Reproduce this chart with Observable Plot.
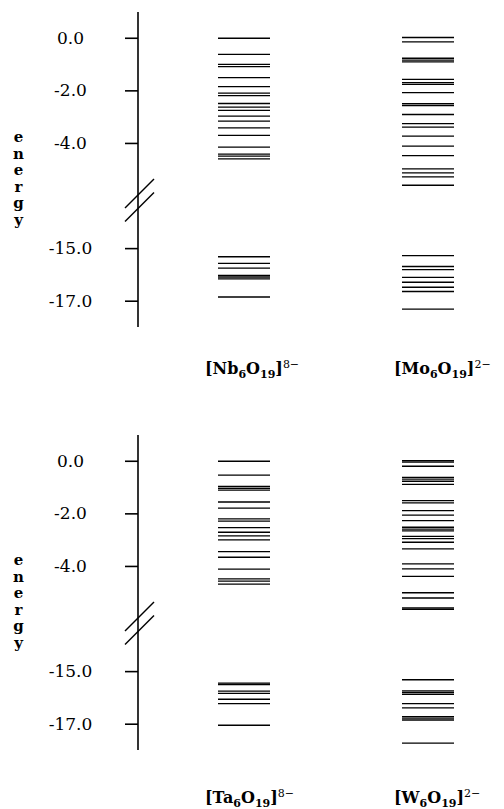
<!DOCTYPE html>
<html>
<head>
<meta charset="utf-8">
<script src="https://cdn.jsdelivr.net/npm/d3@7"></script>
<script src="https://cdn.jsdelivr.net/npm/@observablehq/plot@0.6"></script>
<style>
  html, body { margin: 0; padding: 0; background: #fff; }
  #page { position: relative; width: 504px; height: 809px; overflow: hidden; background: #fff; }
  .panel { position: absolute; left: 0; }
  .lbl { position: absolute; font-family: "DejaVu Serif", serif; font-weight: bold; font-size: 16px; line-height: 16px; color: #000; white-space: nowrap; }
  .lbl sub, .lbl sup { font-size: 11px; line-height: 0; }
  .lbl sup { font-weight: normal; }
</style>
</head>
<body>
<div id="page"></div>
<script>
// ---- data (energies, eV) ----
const topColumns = ["Nb", "Mo"];
const bottomColumns = ["Ta", "W"];

const nbLevels = [0.0, -0.61, -0.99, -1.08, -1.50, -1.84, -2.09, -2.18, -2.48, -2.62, -2.74, -2.96, -3.15, -3.41, -3.69, -4.14, -4.41, -4.48, -4.59,
  -15.31, -15.56, -15.74, -16.02, -16.08, -16.15, -16.84];
const moLevels = [0.03, -0.14, -0.76, -0.83, -0.90, -1.56, -1.69, -1.75, -2.07, -2.49, -2.56, -2.90, -3.25, -3.38, -3.72, -4.10, -4.46, -4.97, -5.12, -5.27, -5.59,
  -15.27, -15.68, -15.80, -16.09, -16.28, -16.47, -16.63, -17.30];
const taLevels = [0.0, -0.53, -0.96, -1.03, -1.10, -1.55, -1.78, -2.19, -2.28, -2.52, -2.70, -2.84, -2.99, -3.44, -3.65, -4.10, -4.47, -4.56, -4.67,
  -15.44, -15.49, -15.74, -15.83, -16.05, -16.22, -17.04];
const wLevels = [0.02, -0.03, -0.19, -0.61, -0.68, -0.76, -0.88, -1.50, -1.58, -1.88, -2.05, -2.26, -2.51, -2.58, -2.65, -2.86, -2.94, -3.08, -3.33, -3.90, -4.09, -4.38, -5.00, -5.20, -5.58, -5.63,
  -15.31, -15.73, -15.79, -15.86, -16.22, -16.38, -16.71, -16.77, -16.84, -17.72];

const tickValues = [0, -2, -4, -15, -17];
const axisLabel = "energy";
const topFormulas = [["Nb", "6", "O", "19", "8−"], ["Mo", "6", "O", "19", "2−"]];
const bottomFormulas = [["Ta", "6", "O", "19", "8−"], ["W", "6", "O", "19", "2−"]];

// broken axis: deep levels are shifted up by a fixed gap
const GAP = 7;
const fold = (e) => (e > -10 ? e : e + GAP);
const unfold = (v) => (v > -7 ? v : v - GAP);
const breakAt = -6.17;

function makePanel(columns, levelArrays) {
  const data = columns.flatMap((c, i) => levelArrays[i].map((E) => ({col: c, E})));
  const axisAndBreak = (index, scales, values, dimensions) => {
    const svgNS = "http://www.w3.org/2000/svg";
    const g = document.createElementNS(svgNS, "g");
    const x0 = dimensions.marginLeft;
    const line = (x1, y1, x2, y2, w) => {
      const l = document.createElementNS(svgNS, "line");
      l.setAttribute("x1", x1); l.setAttribute("y1", y1);
      l.setAttribute("x2", x2); l.setAttribute("y2", y2);
      l.setAttribute("stroke", "black"); l.setAttribute("stroke-width", w);
      g.appendChild(l);
    };
    line(x0, dimensions.marginTop, x0, dimensions.height - dimensions.marginBottom, 1.6);
    const yb = scales.y(breakAt);
    line(x0 - 13, yb + 8, x0 + 16, yb - 21, 1.5);
    line(x0 - 13, yb + 21.5, x0 + 16, yb - 7.5, 1.5);
    return g;
  };
  return Plot.plot({
    width: 504,
    height: 340,
    marginTop: 12,
    marginBottom: 13,
    marginLeft: 138,
    marginRight: 49,
    x: {type: "band", domain: columns, range: [218, 455], paddingInner: 0.715, paddingOuter: 0, axis: null},
    y: {domain: [-11, 0.98], axis: null},
    style: {fontFamily: "DejaVu Serif, serif", fontSize: "17px", background: "white", color: "black"},
    marks: [
      Plot.axisY(tickValues.map(fold), {
        anchor: "left", tickSize: 13, tickPadding: 55, textAnchor: "middle",
        tickFormat: (v) => unfold(v).toFixed(1), label: null, strokeWidth: 1.6, fontSize: 17
      }),
      Plot.tickY(data, {x: "col", y: (d) => fold(d.E), stroke: "black", strokeWidth: 1.3}),
      axisAndBreak,
      Plot.text([axisLabel], {
        text: (d) => d.split("").join("\n"),
        frameAnchor: "left", dx: -120, dy: 8, lineHeight: 1.1,
        fontWeight: "bold", fontSize: 15, textAnchor: "middle"
      })
    ]
  });
}

function formulaHTML(f) {
  return `[${f[0]}<sub>${f[1]}</sub>O<sub>${f[3]}</sub>]<sup>${f[4]}</sup>`;
}

const page = document.getElementById("page");
function addPanel(columns, levels, formulas, top, labelTop) {
  const div = document.createElement("div");
  div.className = "panel";
  div.style.top = top + "px";
  div.appendChild(makePanel(columns, levels));
  page.appendChild(div);
  const lefts = [205, 394];
  formulas.forEach((f, i) => {
    const l = document.createElement("div");
    l.className = "lbl";
    l.style.left = lefts[i] + "px";
    l.style.top = labelTop + "px";
    l.innerHTML = formulaHTML(f);
    page.appendChild(l);
  });
}

addPanel(topColumns, [nbLevels, moLevels], topFormulas, 0, 361);
addPanel(bottomColumns, [taLevels, wLevels], bottomFormulas, 423, 790);
</script>
</body>
</html>
